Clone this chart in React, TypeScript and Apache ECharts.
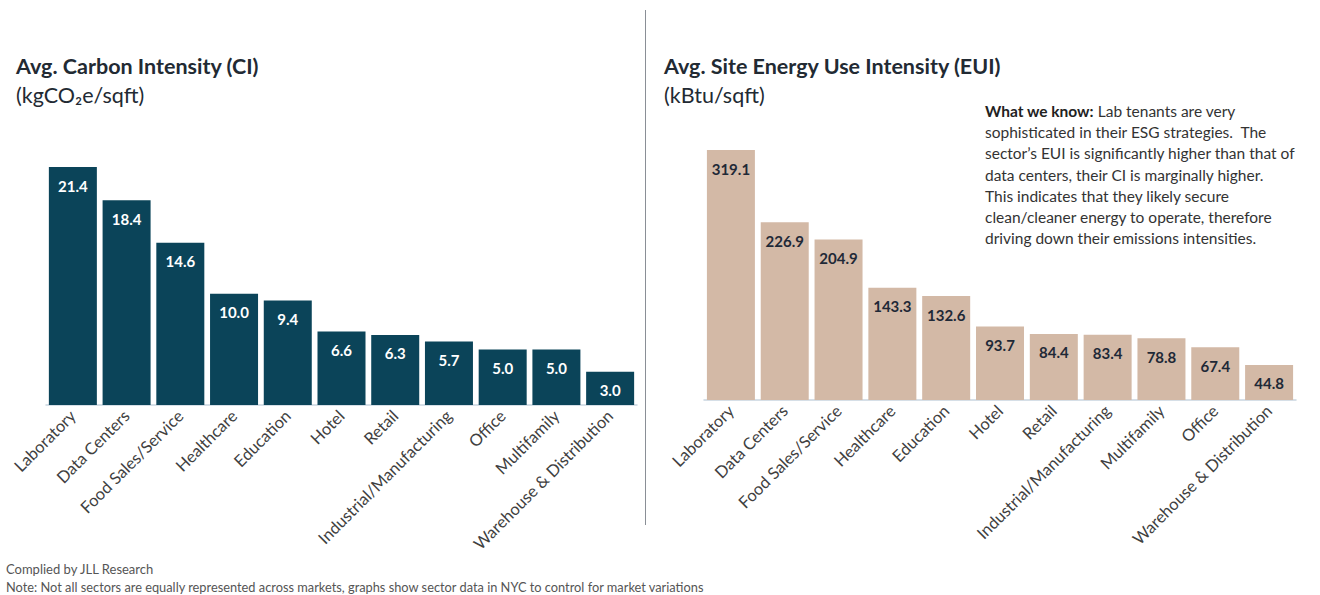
import React, { useEffect, useRef } from "react";
import * as echarts from "echarts";

const ciCategories = [
  "Laboratory",
  "Data Centers",
  "Food Sales/Service",
  "Healthcare",
  "Education",
  "Hotel",
  "Retail",
  "Industrial/Manufacturing",
  "Office",
  "Multifamily",
  "Warehouse & Distribution",
];
const ciValues = [21.4, 18.4, 14.6, 10.0, 9.4, 6.6, 6.3, 5.7, 5.0, 5.0, 3.0];

const euiCategories = [
  "Laboratory",
  "Data Centers",
  "Food Sales/Service",
  "Healthcare",
  "Education",
  "Hotel",
  "Retail",
  "Industrial/Manufacturing",
  "Multifamily",
  "Office",
  "Warehouse & Distribution",
];
const euiValues = [319.1, 226.9, 204.9, 143.3, 132.6, 93.7, 84.4, 83.4, 78.8, 67.4, 44.8];

const FONT = "Lato";

export default function App() {
  const ref = useRef<HTMLDivElement>(null);
  useEffect(() => {
    if (!ref.current) return;
    const chart = echarts.init(ref.current, undefined, { renderer: "svg" });
    const axisLabel = {
      rotate: 45,
      fontFamily: FONT,
      fontSize: 16.5,
      color: "#404040",
      margin: 8,
      interval: 0,
    };
    chart.setOption({
      animation: false,
      backgroundColor: "#ffffff",
      grid: [
        { left: 46, width: 591, top: 167, height: 238 },
        { left: 704, width: 592, top: 150, height: 250 },
      ],
      xAxis: [
        {
          type: "category",
          gridIndex: 0,
          data: ciCategories,
          axisTick: { show: false },
          axisLine: { lineStyle: { color: "#c9d5df", width: 1.5 } },
          axisLabel,
        },
        {
          type: "category",
          gridIndex: 1,
          data: euiCategories,
          axisTick: { show: false },
          axisLine: { lineStyle: { color: "#c9d5df", width: 1.5 } },
          axisLabel,
        },
      ],
      yAxis: [
        { type: "value", gridIndex: 0, min: 0, max: 21.4, show: false },
        { type: "value", gridIndex: 1, min: 0, max: 319.1, show: false },
      ],
      series: [
        {
          type: "bar",
          xAxisIndex: 0,
          yAxisIndex: 0,
          data: ciValues,
          barWidth: 48,
          itemStyle: { color: "#0b4459" },
          label: {
            show: true,
            position: "insideTop",
            distance: 11,
            color: "#ffffff",
            fontFamily: FONT,
            fontWeight: "bold",
            fontSize: 15,
            formatter: (p: any) => p.value.toFixed(1),
          },
        },
        {
          type: "bar",
          xAxisIndex: 1,
          yAxisIndex: 1,
          data: euiValues,
          barWidth: 48,
          itemStyle: { color: "#d3b9a6" },
          label: {
            show: true,
            position: "insideTop",
            distance: 11,
            color: "#1f2937",
            fontFamily: FONT,
            fontWeight: "bold",
            fontSize: 15,
            formatter: (p: any) => p.value.toFixed(1),
          },
        },
      ],
      graphic: [
        {
          type: "line",
          shape: { x1: 645.5, y1: 10, x2: 645.5, y2: 525 },
          style: { stroke: "#8a8f96", lineWidth: 1 },
        },
        {
          type: "text",
          left: 16,
          top: 55,
          style: {
            text: "Avg. Carbon Intensity (CI)",
            fontFamily: FONT,
            fontWeight: "bold",
            fontSize: 21.5,
            fill: "#222a33",
          },
        },
        {
          type: "text",
          left: 16,
          top: 84,
          style: {
            text: "(kgCO₂e/sqft)",
            fontFamily: FONT,
            fontSize: 21.5,
            fill: "#222a33",
          },
        },
        {
          type: "text",
          left: 664,
          top: 55,
          style: {
            text: "Avg. Site Energy Use Intensity (EUI)",
            fontFamily: FONT,
            fontWeight: "bold",
            fontSize: 21.5,
            fill: "#222a33",
          },
        },
        {
          type: "text",
          left: 664,
          top: 84,
          style: {
            text: "(kBtu/sqft)",
            fontFamily: FONT,
            fontSize: 21.5,
            fill: "#222a33",
          },
        },
        {
          type: "text",
          left: 985,
          top: 100,
          style: {
            text:
              "{b|What we know:} Lab tenants are very\n" +
              "sophisticated in their ESG strategies.  The\n" +
              "sector’s EUI is significantly higher than that of\n" +
              "data centers, their CI is marginally higher.\n" +
              "This indicates that they likely secure\n" +
              "clean/cleaner energy to operate, therefore\n" +
              "driving down their emissions intensities.",
            fontFamily: FONT,
            fontSize: 15.5,
            lineHeight: 21.3,
            fill: "#333333",
            rich: {
              b: { fontFamily: FONT, fontSize: 15.5, fontWeight: "bold", fill: "#222222", lineHeight: 21.3 },
            },
          },
        },
        {
          type: "text",
          left: 6,
          top: 562,
          style: {
            text: "Complied by JLL Research",
            fontFamily: FONT,
            fontSize: 13,
            fill: "#555555",
          },
        },
        {
          type: "text",
          left: 6,
          top: 580,
          style: {
            text:
              "Note: Not all sectors are equally represented across markets, graphs show sector data in NYC to control for market variations",
            fontFamily: FONT,
            fontSize: 12.8,
            fill: "#555555",
          },
        },
      ],
    });
    return () => chart.dispose();
  }, []);
  return (
    <div
      ref={ref}
      style={{ position: "fixed", left: 0, top: 0, width: 1320, height: 595, background: "#fff" }}
    />
  );
}
